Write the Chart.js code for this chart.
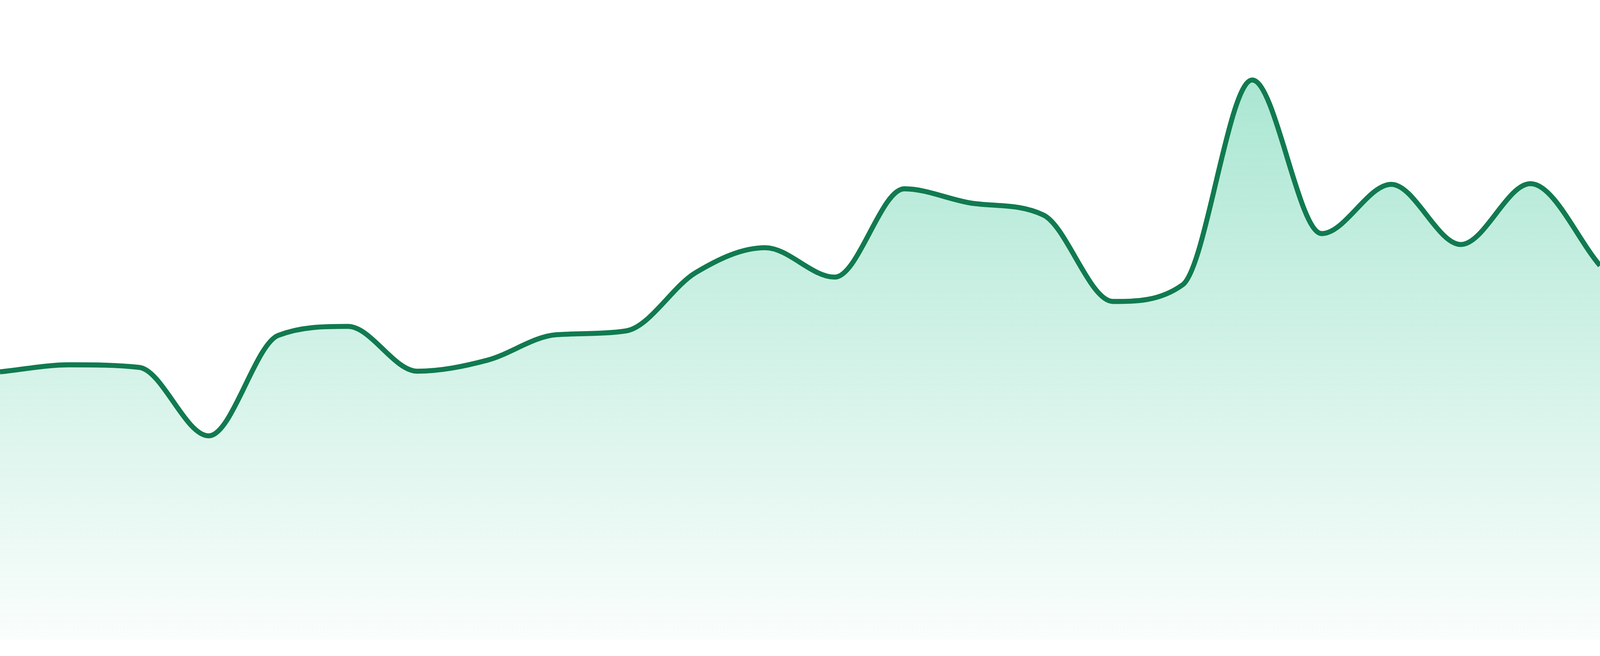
<!DOCTYPE html>
<html>
<head>
<meta charset="utf-8">
<script src="https://cdn.jsdelivr.net/npm/chart.js@4.4.1/dist/chart.umd.min.js"></script>
<style>
  html, body { margin: 0; padding: 0; background: #ffffff; overflow: hidden; }
  #wrap { position: fixed; left: 0; top: 0; width: 100vw; height: 100vh; }
  #c { display: block; }
</style>
</head>
<body>
<div id="wrap"><canvas id="c"></canvas></div>
<script>
const categories = ["00:00","01:00","02:00","03:00","04:00","05:00","06:00","07:00","08:00","09:00","10:00","11:00",
                    "12:00","13:00","14:00","15:00","16:00","17:00","18:00","19:00","20:00","21:00","22:00","23:00"];
const seriesValues = [41.9, 43.0, 42.6, 31.9, 47.6, 49.0, 42.0, 43.7, 47.7, 48.3, 57.4, 61.3,
                      56.7, 70.5, 68.2, 66.4, 52.9, 55.5, 87.5, 63.5, 71.2, 61.8, 71.3, 58.5];
const yMin = 0;
const yMax = 100;

const lineColor = "#117a50";
// sizes below are given in pixels of the 4800x1680 picture
const unit = window.innerWidth / 4800;

function areaGradient(context) {
  const chart = context.chart;
  const area = chart.chartArea;
  if (!area) return "rgba(16,185,129,0.2)";
  const g = chart.ctx.createLinearGradient(0, area.top, 0, area.bottom);
  g.addColorStop(0, "rgba(16,185,129,0.40)");
  g.addColorStop(1, "rgba(16,185,129,0.02)");
  return g;
}

new Chart(document.getElementById("c"), {
  type: "line",
  data: {
    labels: categories,
    datasets: [{
      data: seriesValues,
      borderColor: lineColor,
      borderWidth: 15 * unit,
      backgroundColor: areaGradient,
      fill: "start",
      pointRadius: 0,
      pointHoverRadius: 0,
      cubicInterpolationMode: "monotone"
    }]
  },
  options: {
    responsive: true,
    maintainAspectRatio: false,
    animation: false,
    layout: { padding: { top: 0, bottom: 48 * unit, left: 0, right: 0 } },
    plugins: { legend: { display: false }, tooltip: { enabled: false } },
    scales: {
      x: { display: false, offset: false },
      y: { display: false, min: yMin, max: yMax }
    }
  }
});
</script>
</body>
</html>
